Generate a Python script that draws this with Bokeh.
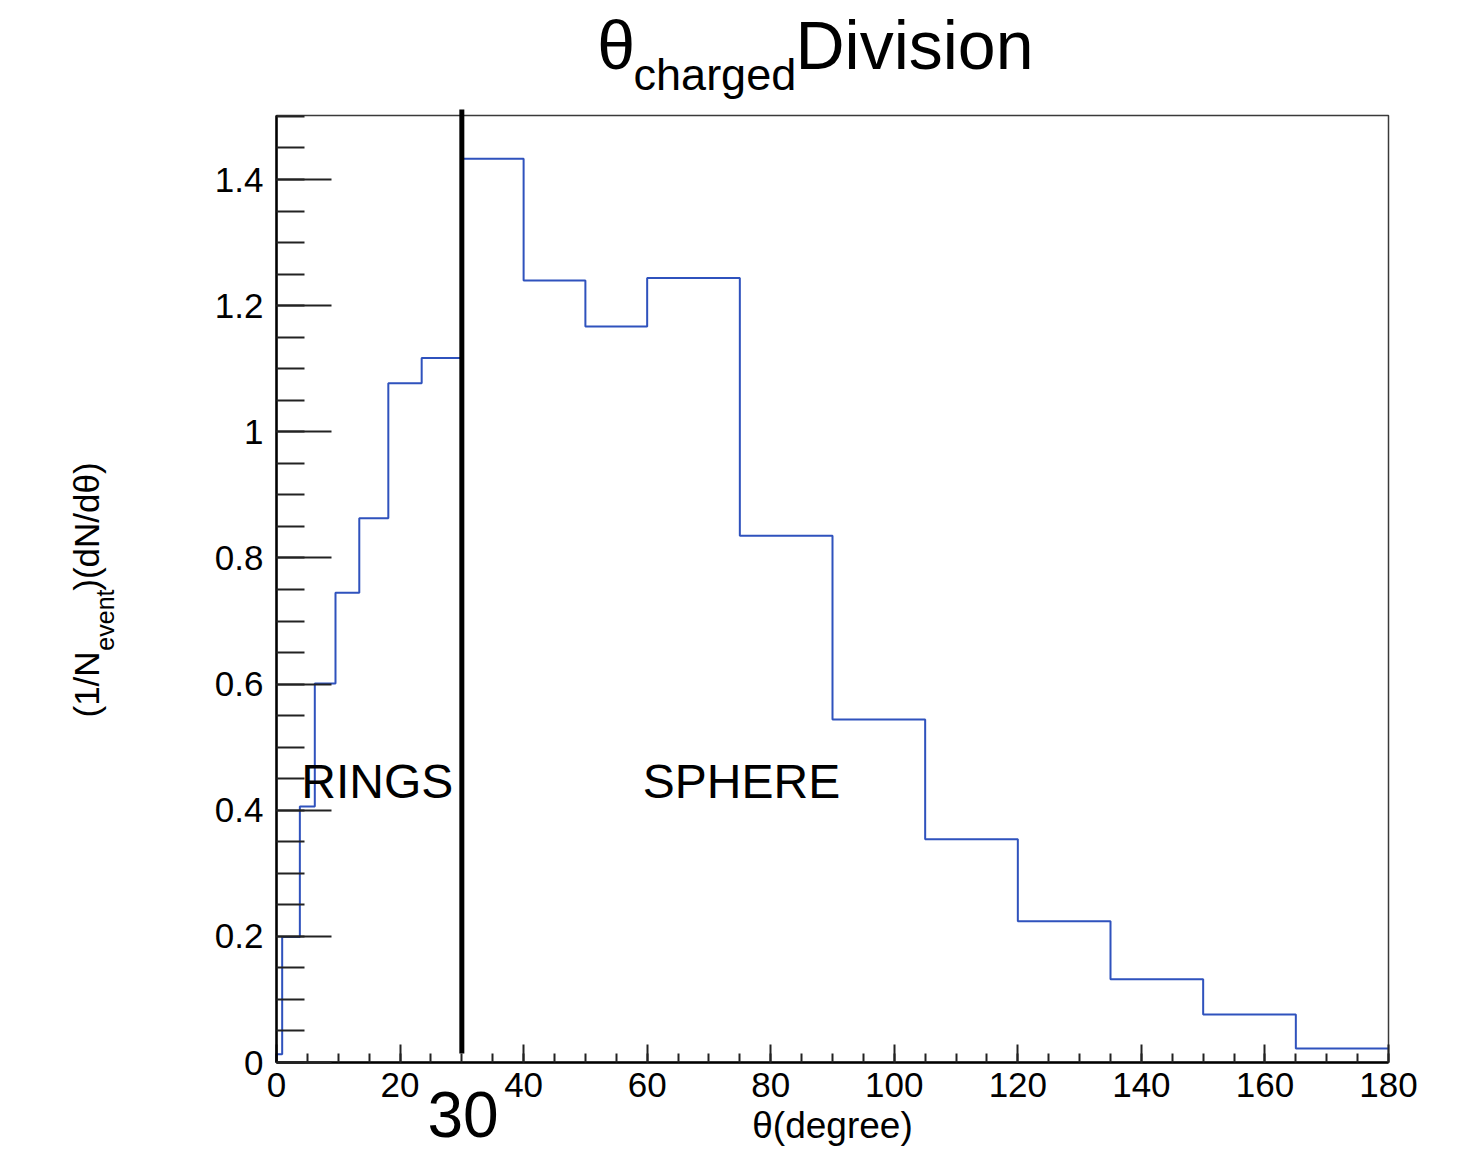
import math
from bokeh.plotting import figure
from bokeh.models import Range1d, FixedTicker, Label, LinearAxis, BoxAnnotation
from bokeh.embed import file_html
from bokeh.resources import INLINE

# ---- data ----
bin_edges = [0, 0.92, 3.78, 6.2, 9.55, 13.4, 18.1, 23.5, 30, 40, 50, 60, 75,
             90, 105, 120, 135, 150, 165, 180]
bin_values = [0.013, 0.199, 0.406, 0.601, 0.745, 0.863, 1.077, 1.117, 1.433,
              1.240, 1.167, 1.244, 0.835, 0.544, 0.354, 0.224, 0.132, 0.076, 0.022]
division_angle = 30
x_ticks = [0, 20, 40, 60, 80, 100, 120, 140, 160, 180]
x_minor = [i * 5 for i in range(37)]
y_ticks = [0, 0.2, 0.4, 0.6, 0.8, 1, 1.2, 1.4]
y_tick_labels = ["0", "0.2", "0.4", "0.6", "0.8", "1", "1.2", "1.4"]
y_minor = [round(i * 0.05, 2) for i in range(31)]

FONT = "Liberation Sans"

# ---- layout geometry (pixels) ----
W, H = 1470, 1150
FL, FR, FT, FB = 276, 1388, 115, 1062      # plot frame edges
X_MIN, X_MAX = 0, 180
PPX = (FR - FL) / (X_MAX - X_MIN)            # px per degree
PPY = 630.7                                  # px per unit
Y_TOP = (FB - FT) / PPY

x_range = Range1d(-FL / PPX, (W - FL) / PPX)
y_range = Range1d(-(H - FB) / PPY, FB / PPY)

p = figure(width=W, height=H, output_backend="svg", toolbar_location=None,
           x_range=x_range, y_range=y_range,
           x_axis_location=None, y_axis_location=None,
           min_border=0, min_border_left=0, min_border_right=0,
           min_border_top=0, min_border_bottom=0)
p.background_fill_color = "white"
p.border_fill_color = "white"
p.outline_line_color = None
p.xgrid.visible = False
p.ygrid.visible = False

# frame box
p.add_layout(BoxAnnotation(left=X_MIN, right=X_MAX, bottom=0, top=Y_TOP,
                           fill_color=None, line_color="#3a3a3a", line_alpha=1.0,
                           line_width=1.5, level="underlay"))

# step histogram outline built from the bins
xs = [bin_edges[0]]
ys = [0]
for i, v in enumerate(bin_values):
    xs += [bin_edges[i], bin_edges[i + 1]]
    ys += [v, v]
p.line(xs, ys, line_color="#2f52bd", line_width=2)

# division line at 30 degrees
p.segment(x0=[division_angle], y0=[0.0143], x1=[division_angle], y1=[1.511],
          line_color="black", line_width=5)

# x axis
xa = LinearAxis(fixed_location=0, bounds=(X_MIN, X_MAX))
xa.ticker = FixedTicker(ticks=x_ticks, minor_ticks=x_minor)
xa.axis_line_color = "black"
xa.axis_line_width = 2.5
xa.major_tick_in = 18
xa.major_tick_out = 0
xa.minor_tick_in = 9
xa.minor_tick_out = 0
xa.major_tick_line_color = "#222222"
xa.major_tick_line_width = 2
xa.minor_tick_line_color = "#222222"
xa.minor_tick_line_width = 2
xa.major_label_text_font = FONT
xa.major_label_text_font_size = "35px"
xa.major_label_text_color = "black"
xa.major_label_standoff = 10
p.add_layout(xa, "below")

# y axis
ya = LinearAxis(fixed_location=0, bounds=(0, Y_TOP))
ya.ticker = FixedTicker(ticks=y_ticks, minor_ticks=y_minor)
ya.major_label_overrides = {t: l for t, l in zip(y_ticks, y_tick_labels)}
ya.axis_line_color = "black"
ya.axis_line_width = 2.5
ya.major_tick_in = 55
ya.major_tick_out = 0
ya.minor_tick_in = 28
ya.minor_tick_out = 0
ya.major_tick_line_color = "#222222"
ya.major_tick_line_width = 2
ya.minor_tick_line_color = "#222222"
ya.minor_tick_line_width = 2
ya.major_label_text_font = FONT
ya.major_label_text_font_size = "35px"
ya.major_label_text_color = "black"
ya.major_label_standoff = 13
p.add_layout(ya, "left")


def lab(x, y, text, size, align="left", angle=0.0):
    p.add_layout(Label(x=x, y=y, x_units="data", y_units="data", text=text,
                       text_font=FONT, text_font_size=size, text_color="black",
                       text_align=align, text_baseline="middle", angle=angle))


# title pieces
lab(51.9, 1.613, "θ", "68px")
lab(57.8, 1.566, "charged", "45px")
lab(84.0, 1.613, "Division", "68px")

# region labels
lab(4.0, 0.445, "RINGS", "48px")
lab(59.3, 0.445, "SPHERE", "48px")

# big 30 below axis
lab(30.2, -0.0825, "30", "64px", align="center")

# x axis title
lab(90, -0.100, "θ(degree)", "37px", align="center")

# y axis title (rotated)
rot = math.pi / 2
lab(-30.7, 0.547, "(1/N", "35px", angle=rot)
lab(-27.8, 0.653, "event", "25px", angle=rot)
lab(-30.7, 0.748, ")(dN/dθ)", "35px", angle=rot)

open("out.html", "w").write(file_html(p, INLINE))
